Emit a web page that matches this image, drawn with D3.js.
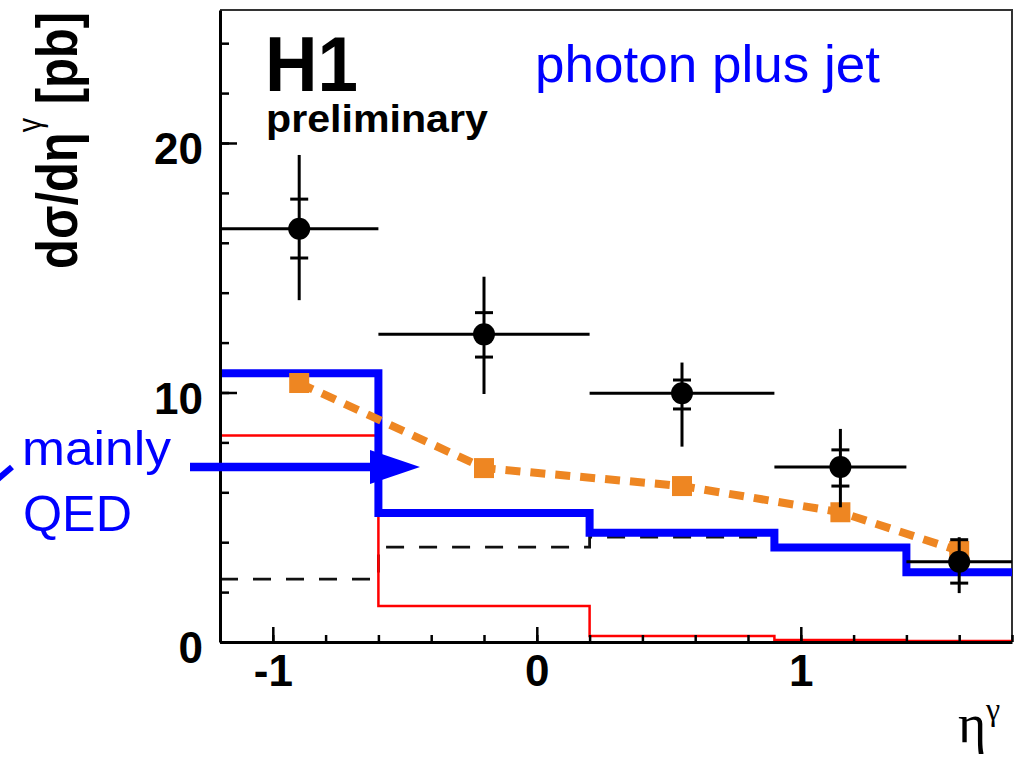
<!DOCTYPE html>
<html>
<head>
<meta charset="utf-8">
<script src="https://cdn.jsdelivr.net/npm/d3@7"></script>
<style>
  body { margin: 0; background: #fff; }
  text { font-family: "Liberation Sans", Arial, sans-serif; }
</style>
</head>
<body>
<script>
// bin edges in eta and the bin centres where the points sit
const xEdges = [-1.2, -0.6, 0.2, 0.9, 1.4, 1.8];
const xCenters = [-0.9, -0.2, 0.55, 1.15, 1.6];

// H1 data points with inner (stat) and outer (total) errors
const dataVal  = [16.56, 12.33, 9.97, 7.01, 3.22];
const statLow  = [15.39, 11.42, 9.34, 6.25, 2.36];
const statHigh = [17.75, 13.2, 10.5, 7.7, 4.1];
const totLow   = [13.7, 9.94, 7.83, 5.4, 1.96];
const totHigh  = [19.52, 14.64, 11.2, 8.54, 4.2];

// theory histograms
const blueHist = [10.77, 5.17, 4.38, 3.79, 2.8];
const redHist  = [8.28, 1.44, 0.24, 0.08, 0.04];
const dashHist = [2.52, 3.8, 4.2, 3.79, 2.8];

// orange curve (squares)
const orangeVal = [10.38, 6.97, 6.25, 5.2, 3.65];

// tick values
const yMajorTicks = [0, 10, 20];
const xMajorTicks = [-1, 0, 1];

const W = 1014, H = 765;
const svg = d3.select('body').append('svg').attr('width', W).attr('height', H);

const x = d3.scaleLinear().domain([-1.2, 1.8]).range([220, 1012]);
const y = d3.scaleLinear().domain([0, 25.33]).range([642, 10]);

// top / right frame
svg.append('path')
  .attr('d', `M${x(-1.2)},${y(25.33)}H${x(1.8)}V${y(0)}`)
  .attr('fill', 'none').attr('stroke', '#333').attr('stroke-width', 2);

// step histogram path
function histPath(vals) {
  let pts = vals.map((v, i) => [xEdges[i], v]);
  pts.push([xEdges[xEdges.length - 1], vals[vals.length - 1]]);
  return d3.line().x(d => x(d[0])).y(d => y(d[1])).curve(d3.curveStepAfter)(pts);
}

svg.append('path').attr('d', histPath(dashHist))
  .attr('fill', 'none').attr('stroke', '#111').attr('stroke-width', 2.8)
  .attr('stroke-dasharray', '18,15');
svg.append('path').attr('d', histPath(redHist))
  .attr('fill', 'none').attr('stroke', '#ff0000').attr('stroke-width', 2.5);
svg.append('path').attr('d', histPath(blueHist))
  .attr('fill', 'none').attr('stroke', '#0000ff').attr('stroke-width', 8);

// orange dotted curve with squares
const orange = '#ee8622';
svg.append('path')
  .attr('d', d3.line().x((d, i) => x(xCenters[i])).y(d => y(d))(orangeVal))
  .attr('fill', 'none').attr('stroke', orange).attr('stroke-width', 8)
  .attr('stroke-dasharray', '15,10');
svg.append('g').selectAll('rect').data(orangeVal).enter().append('rect')
  .attr('x', (d, i) => x(xCenters[i]) - 10)
  .attr('y', d => y(d) - 10)
  .attr('width', 20).attr('height', 20)
  .attr('fill', orange);

// data points
const pts = svg.append('g').attr('stroke', '#000').attr('stroke-width', 3);
dataVal.forEach((v, i) => {
  const cx = x(xCenters[i]);
  pts.append('line').attr('x1', cx).attr('x2', cx).attr('y1', y(totLow[i])).attr('y2', y(totHigh[i]));
  pts.append('line').attr('x1', x(xEdges[i])).attr('x2', x(xEdges[i + 1])).attr('y1', y(v)).attr('y2', y(v));
  [statLow[i], statHigh[i]].forEach(s => {
    pts.append('line').attr('x1', cx - 9).attr('x2', cx + 9).attr('y1', y(s)).attr('y2', y(s));
  });
  pts.append('circle').attr('cx', cx).attr('cy', y(v)).attr('r', 11).attr('fill', '#000').attr('stroke', 'none');
});

// axes
const tickFont = 'bold 44px "Liberation Sans", Arial, sans-serif';
const yMinor = svg.append('g').attr('transform', `translate(${x(-1.2)},0)`)
  .call(d3.axisLeft(y).tickValues(d3.range(0, 25.4, 2)).tickSize(-9).tickFormat(''));
yMinor.select('.domain').remove();
const yMajor = svg.append('g').attr('transform', `translate(${x(-1.2)},0)`)
  .call(d3.axisLeft(y).tickValues(yMajorTicks).tickSizeInner(-17).tickSizeOuter(0).tickPadding(17)
    .tickFormat(d => String(d)));
yMajor.selectAll('text').style('font', tickFont).attr('dy', '0.47em');

const xMinor = svg.append('g').attr('transform', `translate(0,${y(0)})`)
  .call(d3.axisBottom(x).tickValues(d3.range(-1.2, 1.81, 0.2)).tickSize(-7).tickFormat(''));
xMinor.select('.domain').remove();
const xMajor = svg.append('g').attr('transform', `translate(0,${y(0)})`)
  .call(d3.axisBottom(x).tickValues(xMajorTicks).tickSizeInner(-15).tickSizeOuter(0).tickPadding(13)
    .tickFormat(d => String(d)));
xMajor.selectAll('text').style('font', tickFont);

svg.selectAll('.tick line').attr('stroke', '#000').attr('stroke-width', 2.5);
svg.selectAll('.domain').attr('stroke', '#000').attr('stroke-width', 3);

// squeeze/stretch text horizontally to a measured width
function fitWidth(t, w) {
  const len = t.node().getComputedTextLength();
  const x0 = +t.attr('x');
  t.attr('transform', `translate(${x0},0) scale(${w / len},1) translate(${-x0},0)`);
}

// H1 preliminary
fitWidth(svg.append('text').attr('x', 265).attr('y', 91)
  .attr('font-size', 77).attr('font-weight', 'bold').text('H1'), 93);
fitWidth(svg.append('text').attr('x', 266).attr('y', 132)
  .attr('font-size', 39).attr('font-weight', 'bold').text('preliminary'), 222);

// blue annotations
fitWidth(svg.append('text').attr('x', 535).attr('y', 82)
  .attr('font-size', 52).attr('fill', '#0000ff').text('photon plus jet'), 345);
fitWidth(svg.append('text').attr('x', 22).attr('y', 465)
  .attr('font-size', 49).attr('fill', '#0000ff').text('mainly'), 149);
fitWidth(svg.append('text').attr('x', 23).attr('y', 531)
  .attr('font-size', 49).attr('fill', '#0000ff').text('QED'), 109);

// arrow
svg.append('line').attr('x1', 190).attr('x2', 372).attr('y1', 467).attr('y2', 467)
  .attr('stroke', '#0000ff').attr('stroke-width', 8.5);
svg.append('path').attr('d', 'M370,450L420,467L370,484Z').attr('fill', '#0000ff');
svg.append('line').attr('x1', -2).attr('y1', 479).attr('x2', 12).attr('y2', 467)
  .attr('stroke', '#0000ff').attr('stroke-width', 6);

// y axis title
const yt = svg.append('text').attr('text-anchor', 'end')
  .attr('font-weight', 'bold').attr('font-size', 58);
yt.append('tspan').text('dσ/dη');
yt.append('tspan').attr('dy', -36).attr('font-size', 34).attr('font-weight', 'normal').text('γ');
yt.append('tspan').attr('dy', 36).text(' [pb]');
const ylen = yt.node().getComputedTextLength();
yt.attr('transform', `translate(77,12) rotate(-90) scale(${257 / ylen},1)`);

// x axis title
svg.append('text').attr('x', 958).attr('y', 742)
  .style('font-family', '"Liberation Serif", "DejaVu Serif", serif')
  .attr('font-size', 54).text('η');
svg.append('text').attr('x', 986).attr('y', 720)
  .style('font-family', '"Liberation Serif", "DejaVu Serif", serif')
  .attr('font-size', 32).text('γ');
</script>
</body>
</html>
